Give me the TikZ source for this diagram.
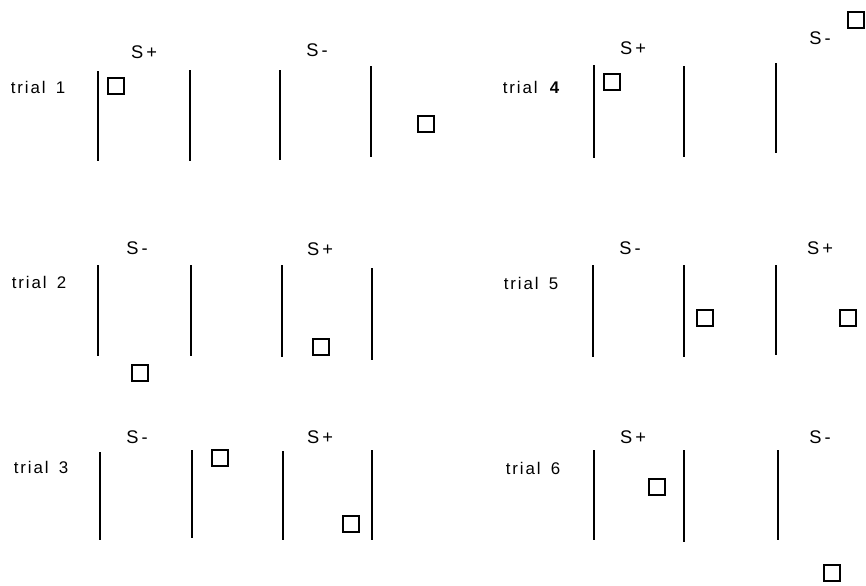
\documentclass[tikz,border=0pt]{standalone}
\usepackage{fontspec}
\setmainfont{Liberation Sans}
\newcommand{\trialno}[1]{{\addfontfeature{LetterSpace=11}trial}\hspace{0.26cm}#1}
\begin{document}
\begin{tikzpicture}[x=0.025cm, y=-0.025cm, line width=1.3pt,
		cue/.style={draw, line width=1.25pt, minimum size=0.39cm, inner sep=0pt},
		trl/.style={anchor=west, inner sep=0pt, font=\fontsize{12}{14}\selectfont},
		sgn/.style={font=\fontsize{13}{15}\selectfont}]
	\useasboundingbox (0,0) rectangle (866,585);
	% trial 1
	\node[trl] (t1) at (10,87) {\trialno{1}};
	\draw (98,71)--(98,161) (190,70)--(190,161) (280,70)--(280,160) (371,66)--(371,157);
	\node[sgn] (p1) at (144,52) {S\,+};
	\node[sgn] (m1) at (317,50) {S\,-};
	\node[cue] (c1a) at (116,86) {};
	\node[cue] (c1b) at (426,124) {};
	% trial 2
	\node[trl] (t2) at (11,282) {\trialno{2}};
	\draw (98,265)--(98,356) (191,265)--(191,356) (282,265)--(282,357) (372,268)--(372,360);
	\node[sgn] (m2) at (137,248) {S\,-};
	\node[sgn] (p2) at (320,249) {S\,+};
	\node[cue] (c2a) at (140,373) {};
	\node[cue] (c2b) at (321,347) {};
	% trial 3
	\node[trl] (t3) at (13,467) {\trialno{3}};
	\draw (100,452)--(100,540) (192,450)--(192,538) (283,451)--(283,540) (372,450)--(372,540);
	\node[sgn] (m3) at (137,437) {S\,-};
	\node[sgn] (p3) at (320,437) {S\,+};
	\node[cue] (c3a) at (220,458) {};
	\node[cue] (c3b) at (351,524) {};
	% trial 4
	\node[trl] (t4) at (502,87) {\trialno{\textbf{4}}};
	\draw (594,65)--(594,158) (684,66)--(684,157) (776,63)--(776,153);
	\node[sgn] (p4) at (633,48) {S\,+};
	\node[sgn] (m4) at (820,38) {S\,-};
	\node[cue] (c4a) at (612,82) {};
	\node[cue] (c4b) at (856,20) {};
	% trial 5
	\node[trl] (t5) at (503,283) {\trialno{5}};
	\draw (593,265)--(593,357) (684,265)--(684,357) (776,265)--(776,355);
	\node[sgn] (m5) at (630,248) {S\,-};
	\node[sgn] (p5) at (820,248) {S\,+};
	\node[cue] (c5a) at (705,318) {};
	\node[cue] (c5b) at (848,318) {};
	% trial 6
	\node[trl] (t6) at (505,468) {\trialno{6}};
	\draw (594,450)--(594,540) (684,450)--(684,542) (778,450)--(778,540);
	\node[sgn] (p6) at (633,437) {S\,+};
	\node[sgn] (m6) at (820,437) {S\,-};
	\node[cue] (c6a) at (657,487) {};
	\node[cue] (c6b) at (832,573) {};
\end{tikzpicture}
\end{document}
